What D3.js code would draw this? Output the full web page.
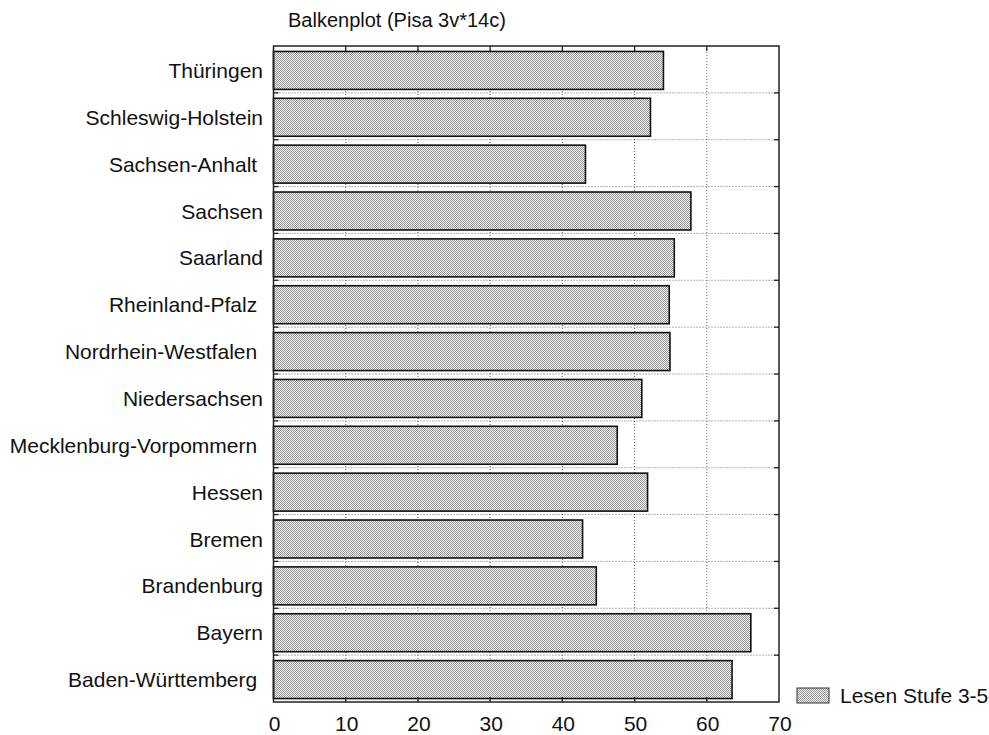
<!DOCTYPE html>
<html><head><meta charset="utf-8">
<script src="https://cdn.jsdelivr.net/npm/d3@7"></script>
<style>
body{margin:0;background:#fff;}
text{font-family:"Liberation Sans",Arial,sans-serif;fill:#111;white-space:pre;}
</style></head>
<body><svg id="c" width="989" height="735"></svg>
<script>
const categories = ["Thüringen","Schleswig-Holstein","Sachsen-Anhalt ","Sachsen","Saarland","Rheinland-Pfalz ","Nordrhein-Westfalen ","Niedersachsen","Mecklenburg-Vorpommern ","Hessen","Bremen","Brandenburg","Bayern","Baden-Württemberg "];
const values = [54.0,52.2,43.2,57.8,55.5,54.8,54.9,51.0,47.6,51.8,42.8,44.7,66.1,63.5];
const xTicks = [0,10,20,30,40,50,60,70];
const title = "Balkenplot (Pisa 3v*14c)";
const seriesName = "Lesen Stufe 3-5";

const svg = d3.select("#c");
const L=273.5, R=779, T=46, B=702;
const FS = 21;
const x = d3.scaleLinear().domain([0,70]).range([L,R]);
const y = d3.scaleBand().domain(categories).range([T,B]).paddingInner(0.19).paddingOuter(0.095);

const defs = svg.append("defs");
const pat = defs.append("pattern").attr("id","hatch").attr("patternUnits","userSpaceOnUse").attr("width",2).attr("height",2);
pat.append("rect").attr("width",2).attr("height",2).attr("fill","#f4f4f4");
pat.append("rect").attr("width",1).attr("height",1).attr("fill","#959595");
pat.append("rect").attr("x",1).attr("y",1).attr("width",1).attr("height",1).attr("fill","#959595");

const step = (B-T)/categories.length;
const bounds = d3.range(1,categories.length).map(i=>T+i*step);

const g = svg.append("g");
g.selectAll(".vg").data(xTicks.slice(1,-1)).join("line")
  .attr("x1",d=>x(d)).attr("x2",d=>x(d)).attr("y1",T).attr("y2",B)
  .attr("stroke","#666").attr("stroke-width",1).attr("stroke-dasharray","1,2");
g.selectAll(".hg").data(bounds).join("line")
  .attr("x1",L).attr("x2",R).attr("y1",d=>d).attr("y2",d=>d)
  .attr("stroke","#666").attr("stroke-width",1).attr("stroke-dasharray","1,2");

svg.selectAll(".bar").data(categories).join("rect")
  .attr("x",x(0)).attr("y",d=>y(d)+1)
  .attr("width",(d,i)=>x(values[i])-x(0)).attr("height",y.bandwidth())
  .attr("fill","url(#hatch)").attr("stroke","#111").attr("stroke-width",1.6);

svg.append("rect").attr("x",L).attr("y",T).attr("width",R-L).attr("height",B-T)
  .attr("fill","none").attr("stroke","#222").attr("stroke-width",1.5);

const tk = svg.append("g").attr("stroke","#222").attr("stroke-width",1.3);
xTicks.slice(1,-1).forEach(t=>{
  tk.append("line").attr("x1",x(t)).attr("x2",x(t)).attr("y1",B).attr("y2",B-5);
  tk.append("line").attr("x1",x(t)).attr("x2",x(t)).attr("y1",T).attr("y2",T+5);
});
bounds.forEach(b=>{
  tk.append("line").attr("x1",L).attr("x2",L+5).attr("y1",b).attr("y2",b);
  tk.append("line").attr("x1",R).attr("x2",R-5).attr("y1",b).attr("y2",b);
});

svg.selectAll(".xl").data(xTicks).join("text")
  .attr("x",d=>x(d)+1).attr("y",731).attr("text-anchor","middle")
  .attr("font-size",FS).text(d=>d);

svg.selectAll(".cl").data(categories).join("text")
  .attr("x",263).attr("y",d=>y(d)+y.bandwidth()/2+8.5).attr("text-anchor","end")
  .attr("font-size",FS).text(d=>d);

svg.append("text").attr("x",288).attr("y",27).attr("font-size",20).text(title);

svg.append("rect").attr("x",797).attr("y",688).attr("width",32).attr("height",15)
  .attr("fill","url(#hatch)").attr("stroke","#333").attr("stroke-width",1);
svg.append("text").attr("x",840).attr("y",703).attr("font-size",FS).text(seriesName);
</script></body></html>
